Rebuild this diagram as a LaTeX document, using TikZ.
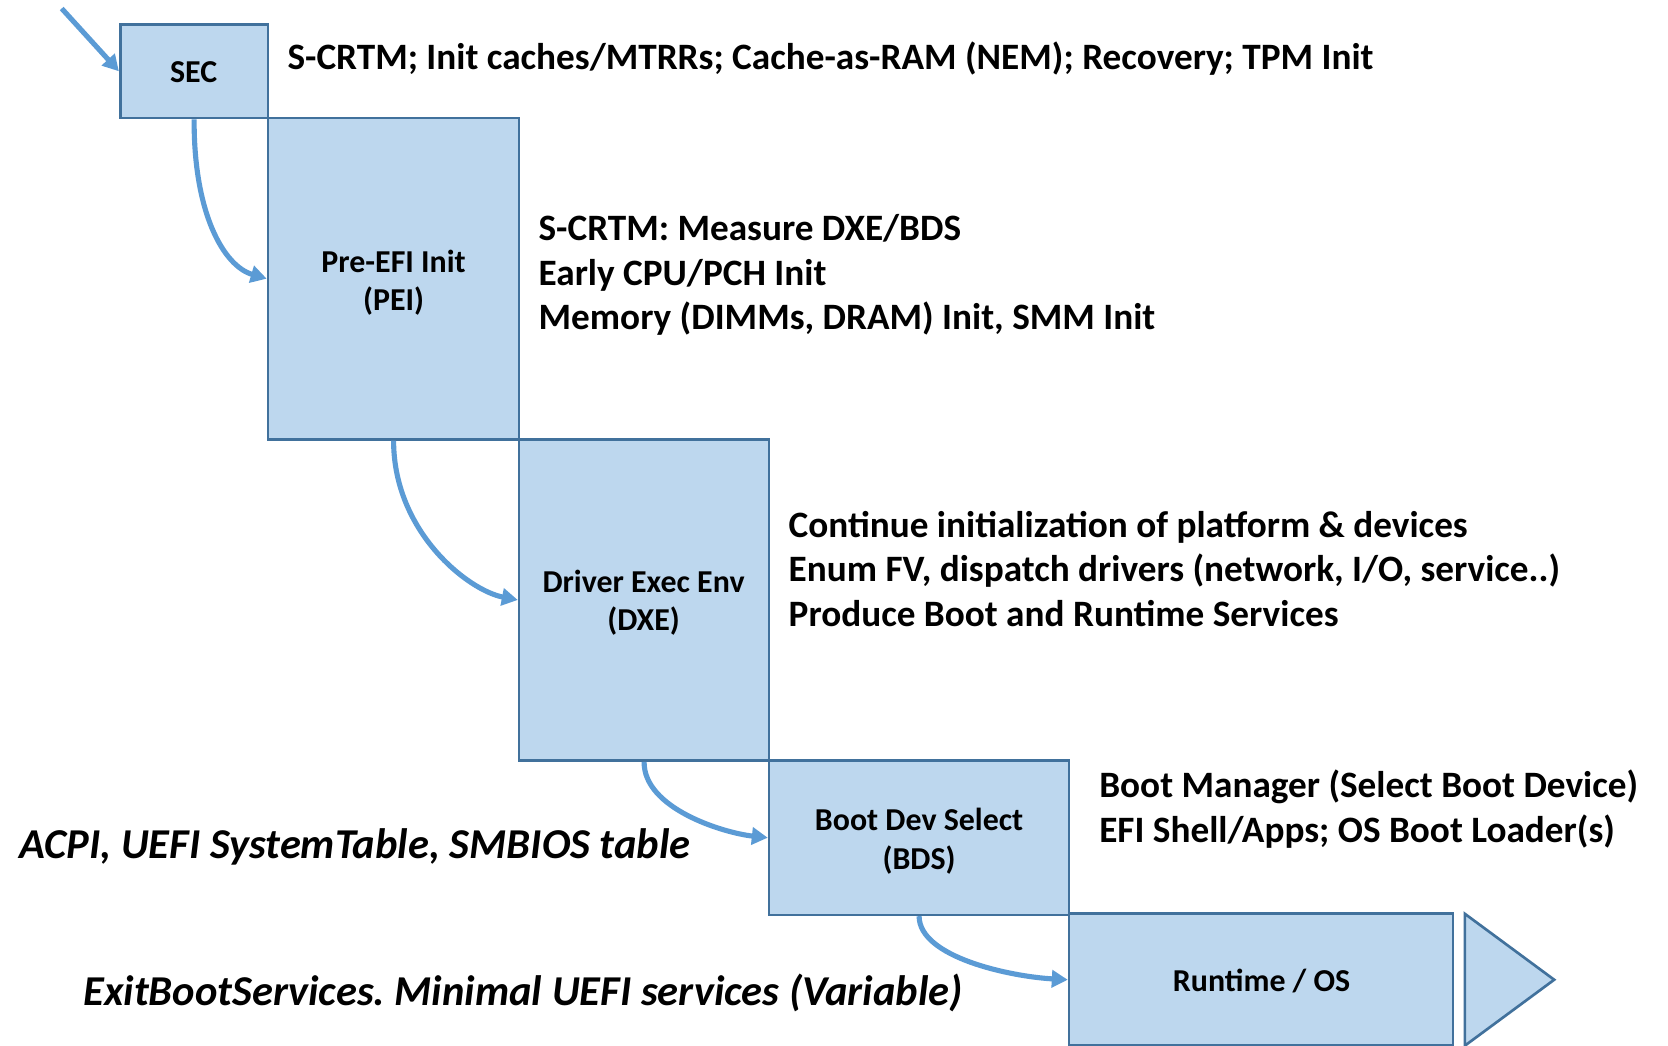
\documentclass[tikz,border=0pt]{standalone}
\usepackage{fontspec}
\setmainfont{Carlito}
\usetikzlibrary{arrows.meta,fit}
\definecolor{boxfill}{HTML}{BDD7EE}
\definecolor{boxline}{HTML}{41719C}
\definecolor{flow}{HTML}{5B9BD5}
\frenchspacing
\tikzset{
  stage/.style={draw=boxline, fill=boxfill, line width=1.25pt, inner sep=0pt},
  stagelabel/.style={anchor=base, align=center, inner sep=0pt,
    font=\bfseries\fontsize{15}{18}\selectfont},
  flowarrow/.style={draw=flow, line width=2.4pt,
    -{Triangle[length=7.5pt,width=8pt]}},
  desc/.style={anchor=base west, align=left, inner sep=0pt,
    font=\bfseries\fontsize{17.5}{21}\selectfont},
  note/.style={anchor=base west, inner sep=0pt,
    font=\bfseries\itshape\fontsize{20}{24}\selectfont}
}
\begin{document}
\begin{tikzpicture}[x=0.5pt,y=-0.5pt]
\useasboundingbox (0,0) rectangle (1568,983);
\clip (0,0) rectangle (1568,983);
\fill[white] (0,0) rectangle (1568,983);

% phase boxes, each one hanging off the previous corner
\node[stage, fit={(113,23) (252,111)}] (sec) {};
\node[stage, fit={(252,111) (488,413)}] (pei) {};
\node[stage, fit={(488,413) (723,715)}] (dxe) {};
\node[stage, fit={(723,715) (1005,860)}] (bds) {};
\node[stage, fit={(1005,859) (1366,983)}] (rt) {};
\draw[draw=boxline, fill=boxfill, line width=1.25pt]
  (1377,859) -- (1461,921) -- (1377,983) -- cycle;

% phase names (base = baseline of the last line)
\node[stagelabel] (secl) at (182,78) {SEC};
\node[stagelabel] (peil) at (370,292) {Pre-EFI Init\\(PEI)};
\node[stagelabel] (dxel) at (605,593) {Driver Exec Env\\(DXE)};
\node[stagelabel] (bdsl) at (864,817) {Boot Dev Select\\(BDS)};
\node[stagelabel] (rtl) at (1186,932) {Runtime / OS};

% descriptions
\node[desc] (secd) at (270,65) {S-CRTM; Init caches/MTRRs; Cache-as-RAM (NEM); Recovery; TPM Init};
\node[desc] (peid) at (506,310) {S-CRTM: Measure DXE/BDS\\Early CPU/PCH Init\\Memory (DIMMs, DRAM) Init, SMM Init};
\node[desc] (dxed) at (741,589) {Continue initialization of platform \& devices\\Enum FV, dispatch drivers (network, I/O, service..)\\Produce Boot and Runtime Services};
\node[desc] (bdsd) at (1033,792) {Boot Manager (Select Boot Device)\\EFI Shell/Apps; OS Boot Loader(s)};
\node[note] (acpi) at (18,807) {ACPI, UEFI SystemTable, SMBIOS table};
\node[note] (exit) at (78,945) {ExitBootServices. Minimal UEFI services (Variable)};

% control flow
\coordinate (reset) at (58,8);
\draw[flowarrow] (reset) -- (sec.west);
\draw[flowarrow] (sec.south) .. controls (182,200) and (210,250) .. (pei.west);
\draw[flowarrow] (pei.south) .. controls (370,500) and (440,555) .. (dxe.west);
\draw[flowarrow] (dxe.south) .. controls (605,760) and (680,783) .. (bds.west);
\draw[flowarrow] (bds.south) .. controls (864,900) and (950,918) .. (rt.west);
\end{tikzpicture}
\end{document}
